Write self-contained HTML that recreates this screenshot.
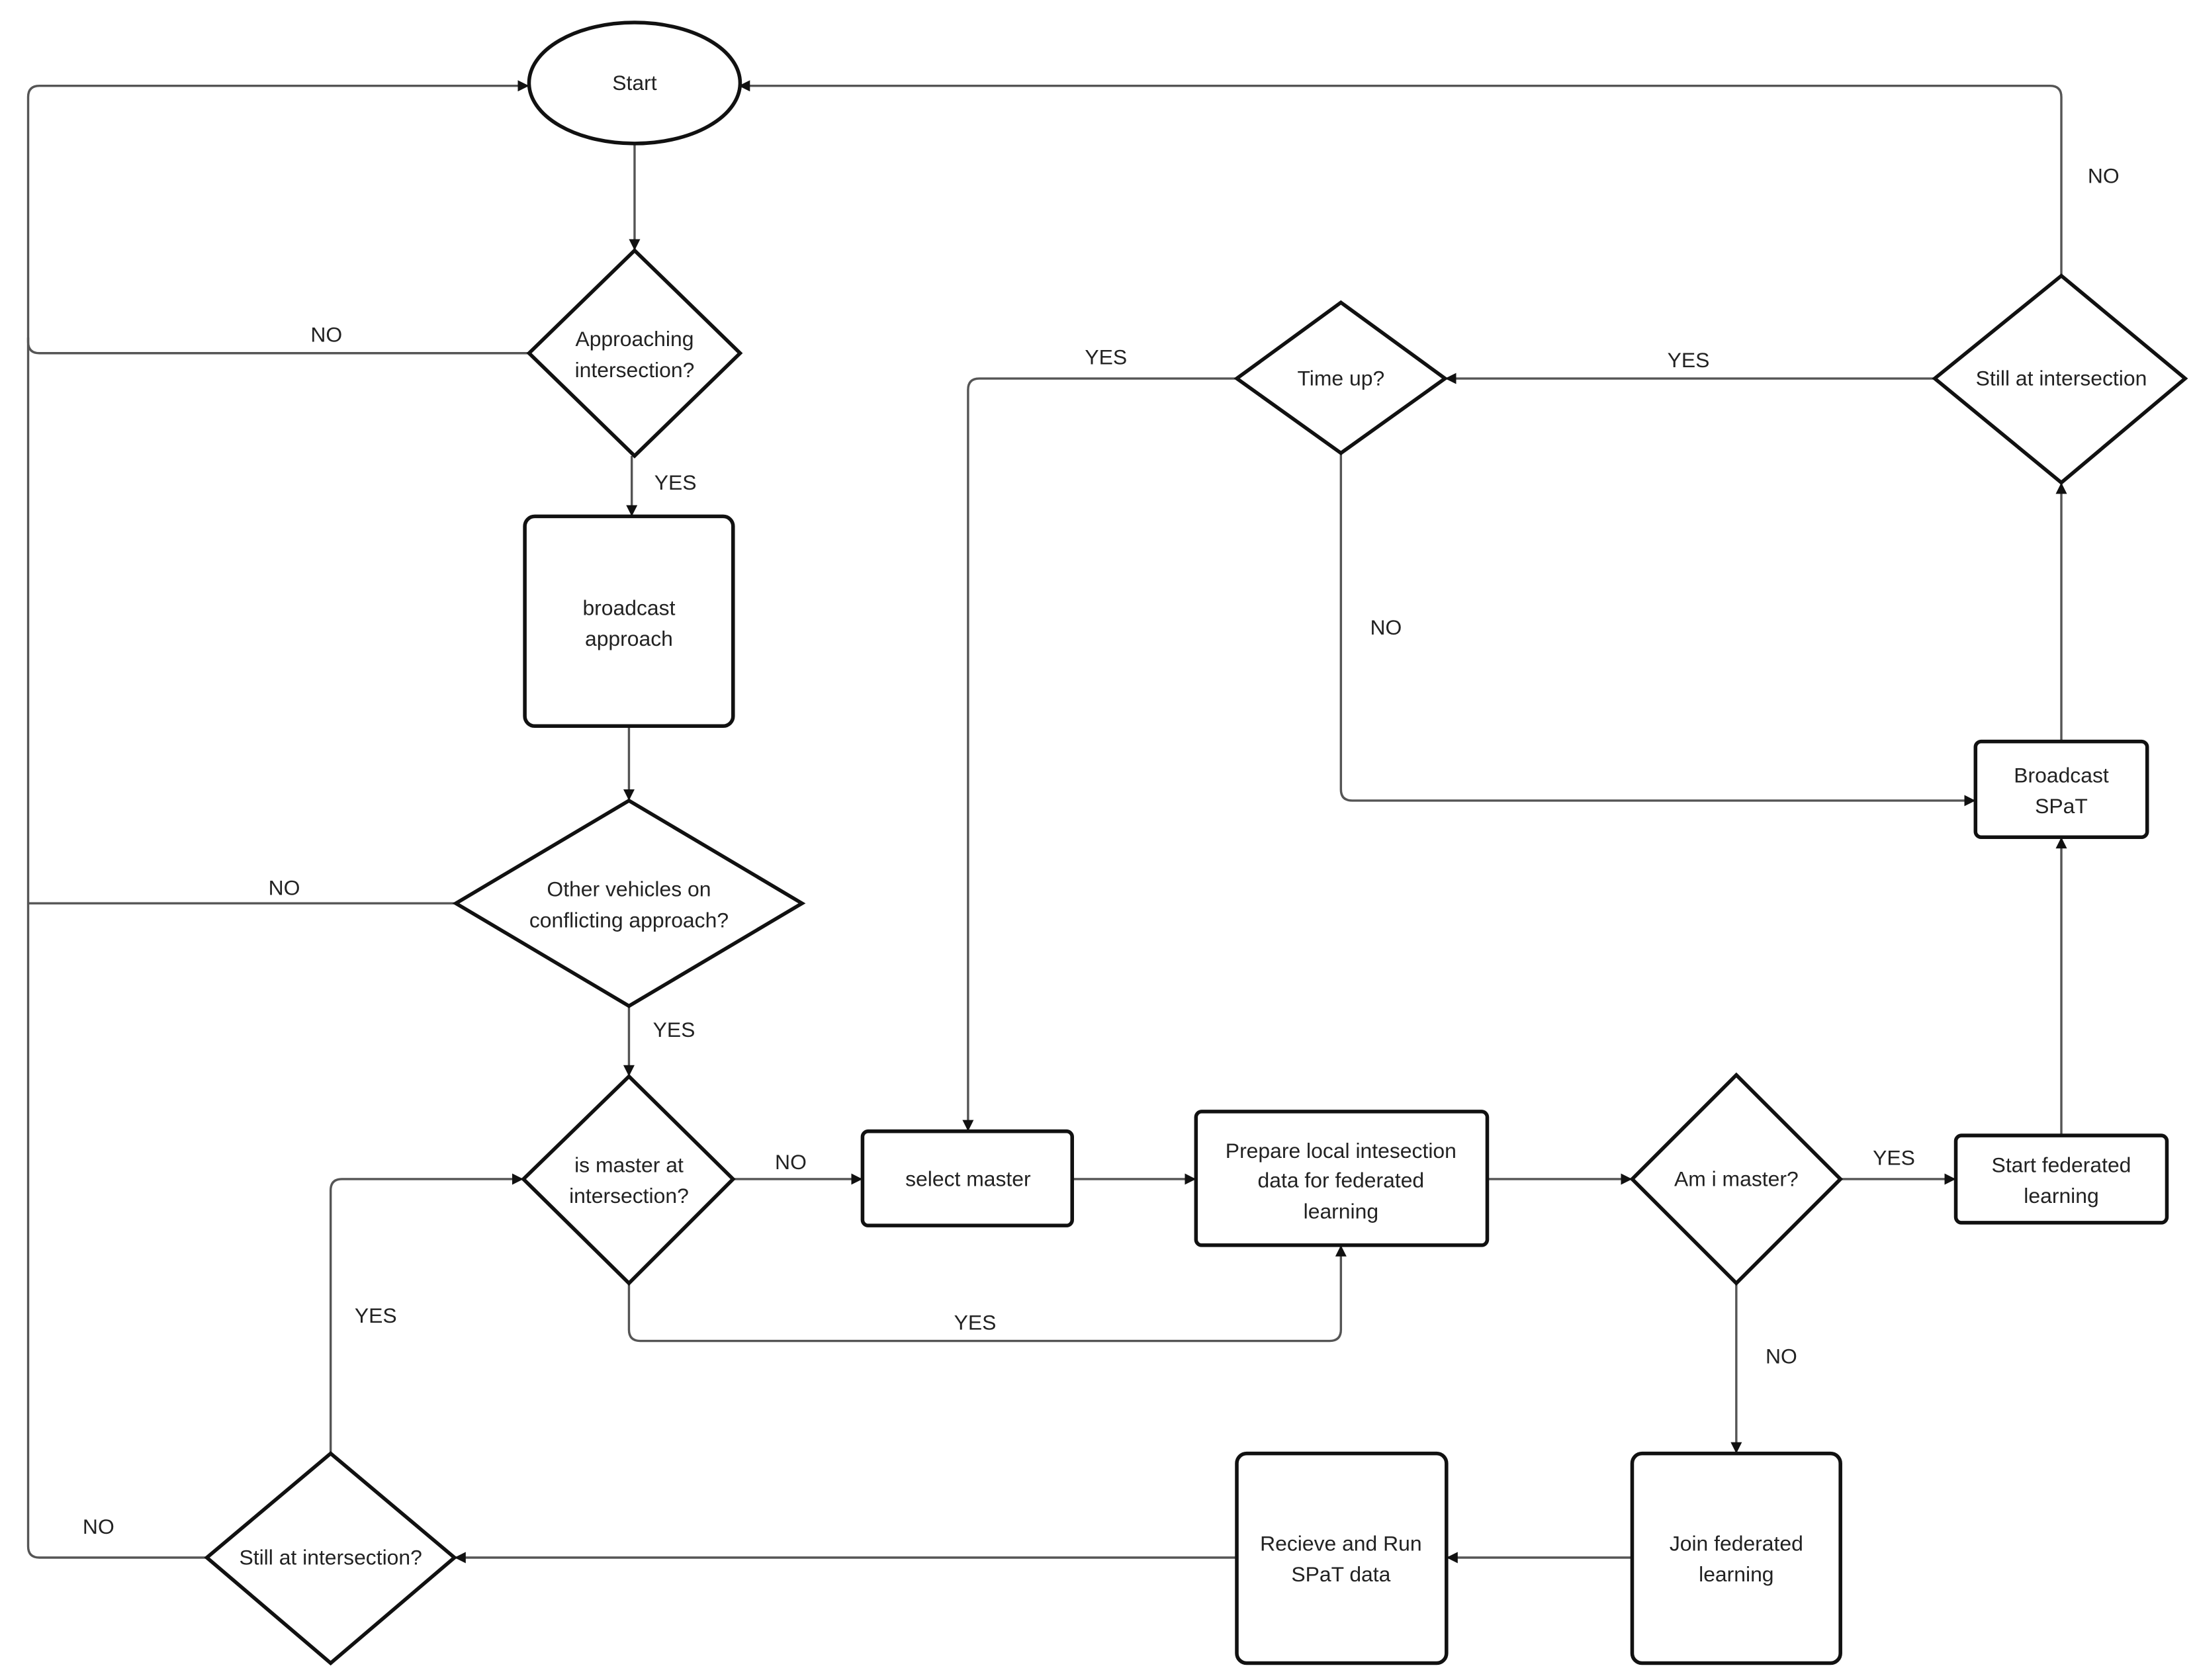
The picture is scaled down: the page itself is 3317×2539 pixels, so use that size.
<!DOCTYPE html>
<html><head><meta charset="utf-8"><style>
html,body{margin:0;padding:0;background:#fff;}
svg{display:block;}
text{font-family:"Liberation Sans",sans-serif;font-size:15px;fill:#222;text-anchor:middle;}
.s{fill:#fff;stroke:#111;stroke-width:2.6;}
.c{fill:none;stroke:#555;stroke-width:1.6;}
</style></head><body>
<svg width="3317" height="2539" viewBox="0 0 1560 1194" preserveAspectRatio="none" xmlns="http://www.w3.org/2000/svg">
<defs><marker id="a" markerWidth="8" markerHeight="8" refX="7" refY="4" orient="auto" markerUnits="userSpaceOnUse"><path d="M0,0 L8,4 L0,8 z" fill="#111"/></marker></defs>
<!-- connectors -->
<path class="c" d="M451,103 V177" marker-end="url(#a)"/>
<path class="c" d="M376,251 H28 Q20,251 20,243 V69 Q20,61 28,61 H375" marker-end="url(#a)"/>
<path class="c" d="M449,324 V366" marker-end="url(#a)"/>
<path class="c" d="M447,516 V568" marker-end="url(#a)"/>
<path class="c" d="M324,642 H20"/>
<path class="c" d="M20,240 V1099 Q20,1107 28,1107 H147"/>
<path class="c" d="M447,715 V764" marker-end="url(#a)"/>
<path class="c" d="M521,838 H612" marker-end="url(#a)"/>
<path class="c" d="M447,912 V945 Q447,953 455,953 H945 Q953,953 953,945 V886" marker-end="url(#a)"/>
<path class="c" d="M762,838 H849" marker-end="url(#a)"/>
<path class="c" d="M1057,838 H1159" marker-end="url(#a)"/>
<path class="c" d="M1308,838 H1389" marker-end="url(#a)"/>
<path class="c" d="M1465,807 V596" marker-end="url(#a)"/>
<path class="c" d="M1465,527 V344" marker-end="url(#a)"/>
<path class="c" d="M1375,269 H1028" marker-end="url(#a)"/>
<path class="c" d="M1465,196 V69 Q1465,61 1457,61 H526" marker-end="url(#a)"/>
<path class="c" d="M879,269 H696 Q688,269 688,277 V803" marker-end="url(#a)"/>
<path class="c" d="M953,322 V561 Q953,569 961,569 H1403" marker-end="url(#a)"/>
<path class="c" d="M1234,912 V1032" marker-end="url(#a)"/>
<path class="c" d="M1160,1107 H1029" marker-end="url(#a)"/>
<path class="c" d="M879,1107 H324" marker-end="url(#a)"/>
<path class="c" d="M235,1033 V846 Q235,838 243,838 H371" marker-end="url(#a)"/>
<!-- shapes -->
<ellipse class="s" cx="451" cy="59" rx="75" ry="43"/>
<polygon class="s" points="451,178 526,251 451,324 376,251"/>
<rect class="s" x="373" y="367" width="148" height="149" rx="7"/>
<polygon class="s" points="447,569 570,642 447,715 324,642"/>
<polygon class="s" points="447,765 521,838 447,912 372,838"/>
<rect class="s" x="613" y="804" width="149" height="67" rx="4"/>
<rect class="s" x="850" y="790" width="207" height="95" rx="4"/>
<polygon class="s" points="1234,764 1308,838 1234,912 1160,838"/>
<rect class="s" x="1390" y="807" width="150" height="62" rx="4"/>
<rect class="s" x="1404" y="527" width="122" height="68" rx="4"/>
<polygon class="s" points="1465,196 1553,269 1465,343 1375,269"/>
<polygon class="s" points="953,215 1027,269 953,322 879,269"/>
<rect class="s" x="1160" y="1033" width="148" height="149" rx="7"/>
<rect class="s" x="879" y="1033" width="149" height="149" rx="7"/>
<polygon class="s" points="235,1033 323,1107 235,1182 147,1107"/>
<!-- labels -->
<text x="451" y="64">Start</text>
<text x="451" y="246">Approaching</text><text x="451" y="268">intersection?</text>
<text x="447" y="437">broadcast</text><text x="447" y="459">approach</text>
<text x="447" y="637">Other vehicles on</text><text x="447" y="659">conflicting approach?</text>
<text x="447" y="833">is master at</text><text x="447" y="855">intersection?</text>
<text x="688" y="843">select master</text>
<text x="953" y="823">Prepare local intesection</text><text x="953" y="844">data for federated</text><text x="953" y="866">learning</text>
<text x="1234" y="843">Am i master?</text>
<text x="1465" y="833">Start federated</text><text x="1465" y="855">learning</text>
<text x="1465" y="556">Broadcast</text><text x="1465" y="578">SPaT</text>
<text x="1465" y="274">Still at intersection</text>
<text x="953" y="274">Time up?</text>
<text x="1234" y="1102">Join federated</text><text x="1234" y="1124">learning</text>
<text x="953" y="1102">Recieve and Run</text><text x="953" y="1124">SPaT data</text>
<text x="235" y="1112">Still at intersection?</text>
<text x="232" y="243">NO</text>
<text x="480" y="348">YES</text>
<text x="202" y="636">NO</text>
<text x="479" y="737">YES</text>
<text x="562" y="831">NO</text>
<text x="693" y="945">YES</text>
<text x="1346" y="828">YES</text>
<text x="1200" y="261">YES</text>
<text x="1495" y="130">NO</text>
<text x="786" y="259">YES</text>
<text x="985" y="451">NO</text>
<text x="1266" y="969">NO</text>
<text x="70" y="1090">NO</text>
<text x="267" y="940">YES</text>
</svg>
</body></html>
